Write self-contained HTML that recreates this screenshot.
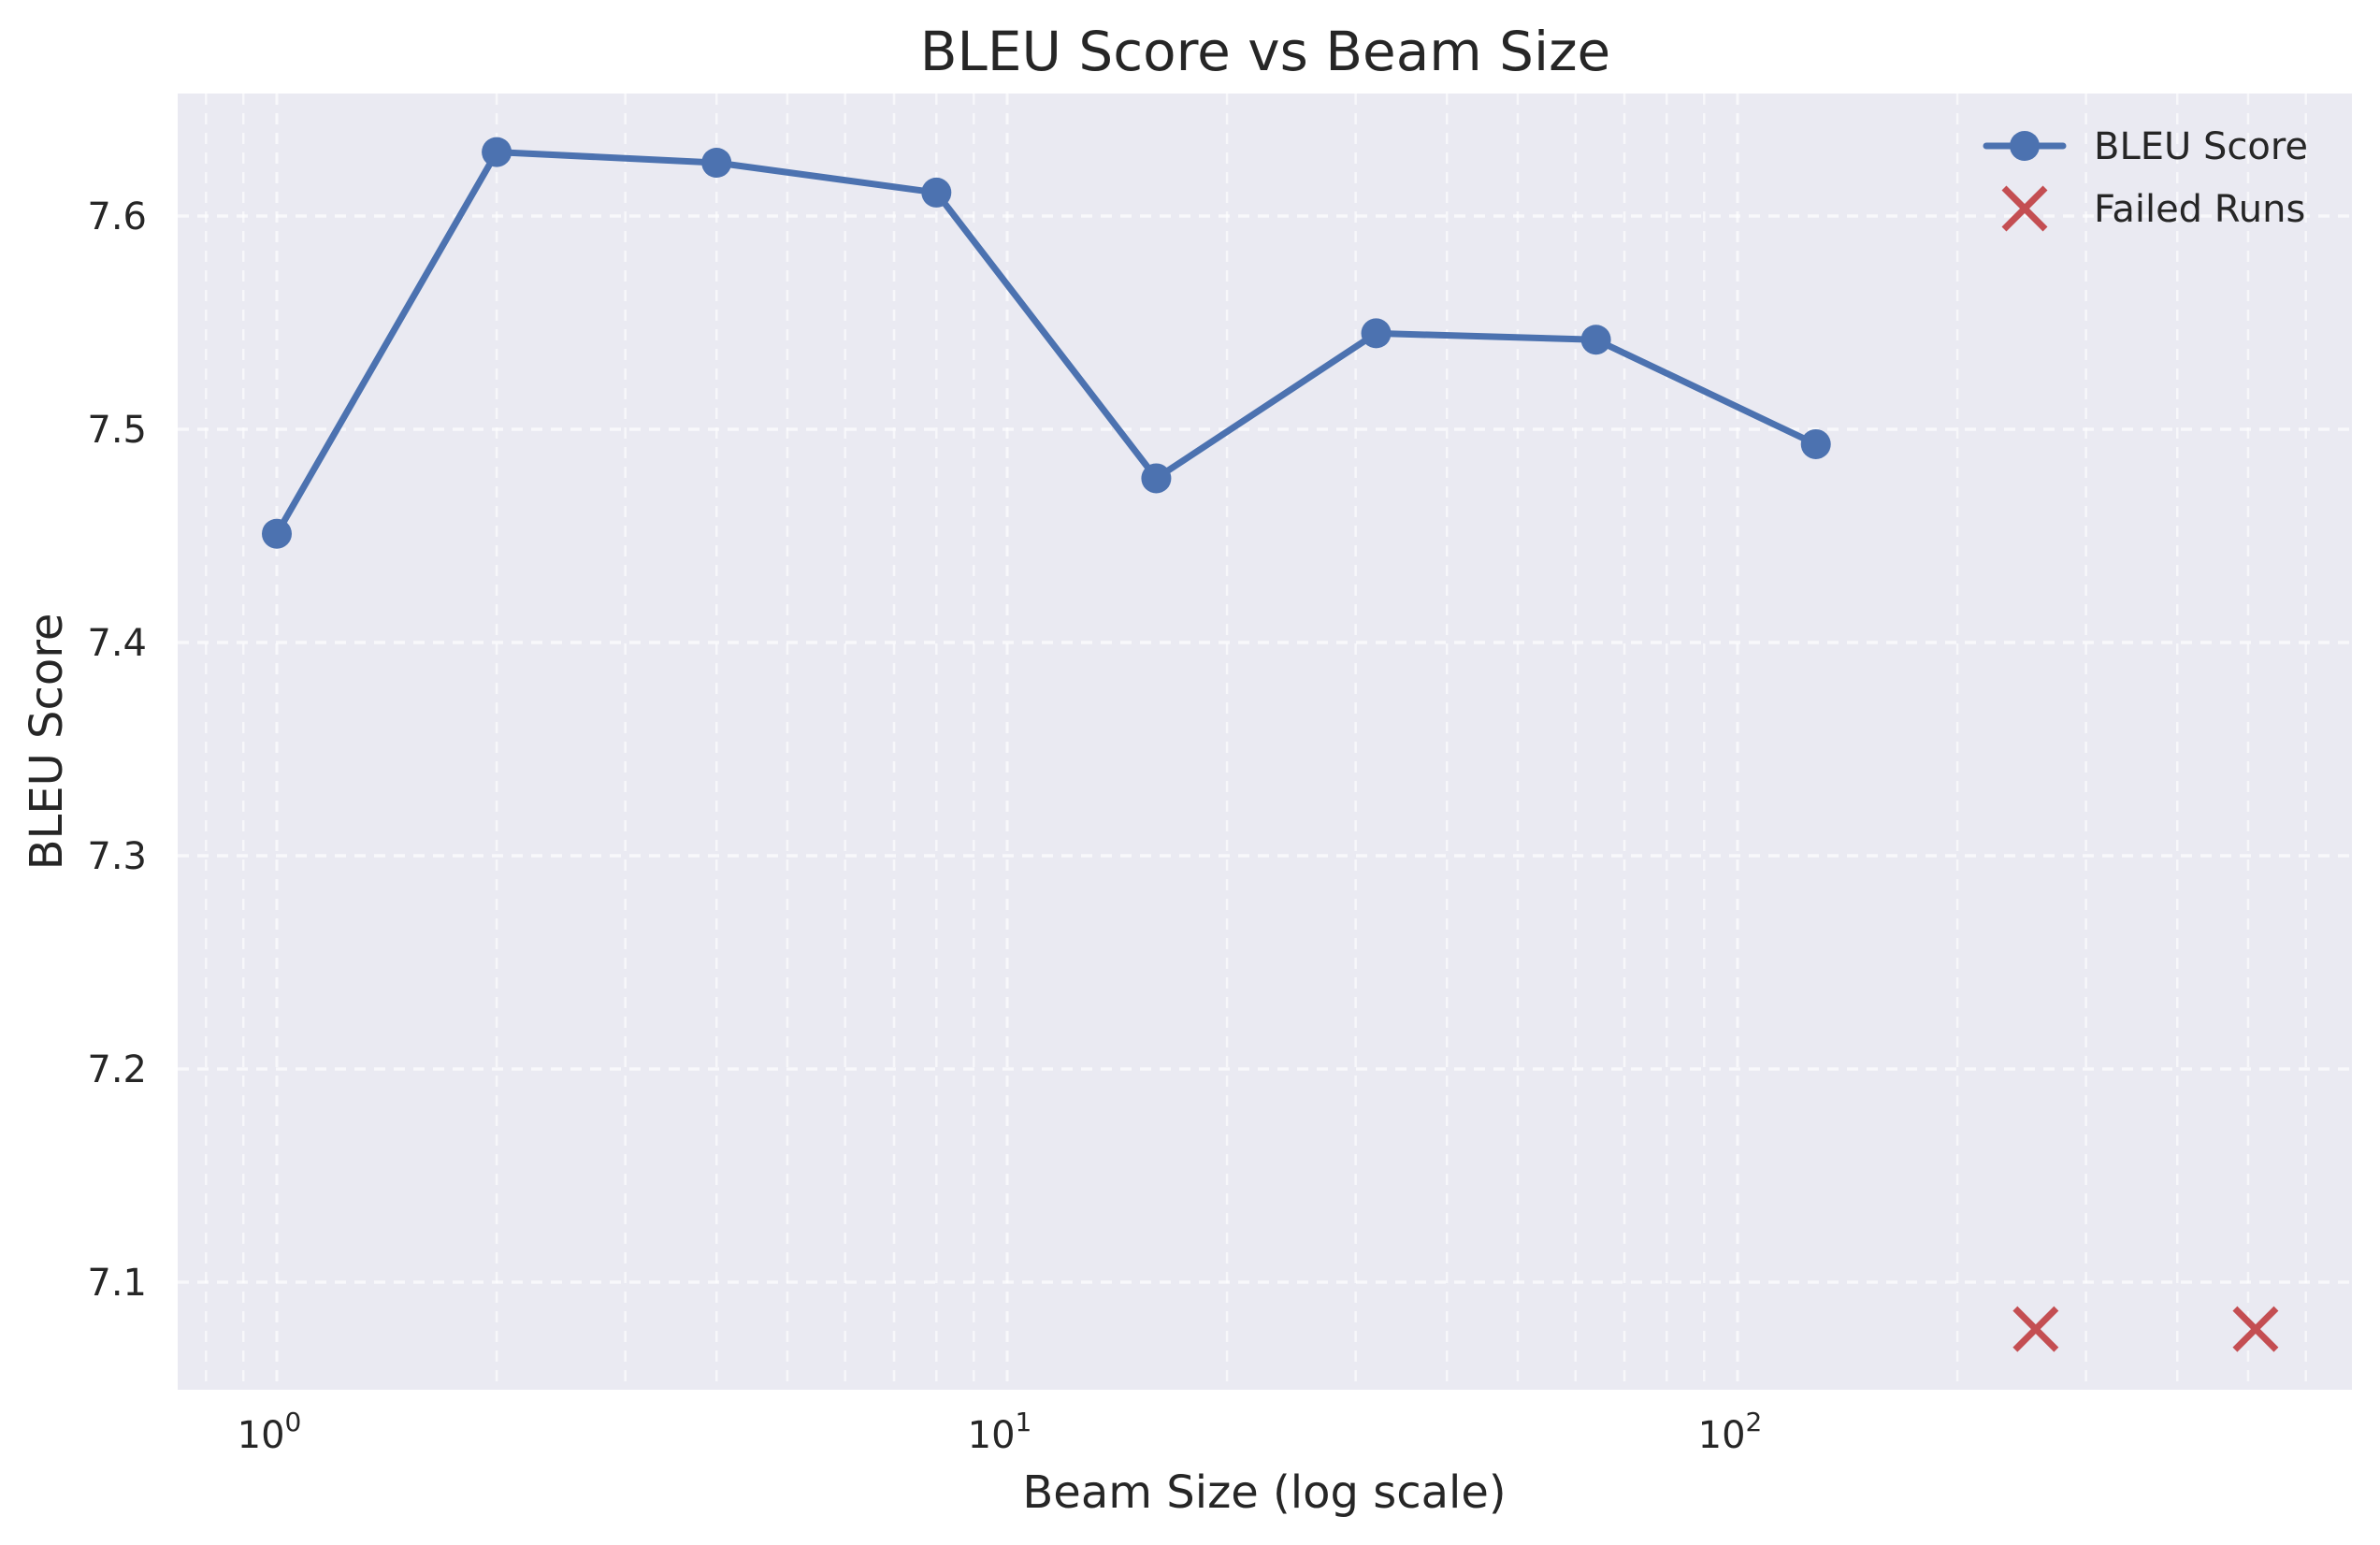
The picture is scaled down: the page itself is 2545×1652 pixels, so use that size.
<!DOCTYPE html>
<html><head><meta charset="utf-8"><style>
html,body{margin:0;padding:0;background:#fff;}
svg{display:block;font-family:"DejaVu Sans","Liberation Sans",sans-serif;}
</style></head><body>
<svg id="chart" width="2545" height="1652" viewBox="0 0 2545 1652" xmlns="http://www.w3.org/2000/svg">
<rect x="0" y="0" width="2545" height="1652" fill="#ffffff"/>
<text x="1353" y="75" text-anchor="middle" font-size="58" fill="#262626">BLEU Score vs Beam Size</text>
<rect x="190" y="100" width="2325" height="1386" fill="#eaeaf2"/>
<g id="grid"></g>
<g id="series"></g>
<g id="ticks"></g>
<text x="1352" y="1612" text-anchor="middle" font-size="48" fill="#262626">Beam Size (log scale)</text>
<text transform="translate(66,793) rotate(-90)" text-anchor="middle" font-size="48" fill="#262626">BLEU Score</text>
<g>
  <line x1="2124" y1="156" x2="2206" y2="156" stroke="#4c72b0" stroke-width="7" stroke-linecap="round"/>
  <circle cx="2165" cy="156" r="16" fill="#4c72b0"/>
  <text x="2239" y="170" font-size="40" fill="#262626">BLEU Score</text>
  <g stroke="#c44e52" stroke-width="7">
    <line x1="2143" y1="201" x2="2187" y2="245"/><line x1="2187" y1="201" x2="2143" y2="245"/>
  </g>
  <text x="2239" y="237" font-size="40" fill="#262626">Failed Runs</text>
</g>
</svg>
<script>
const beamSizes = [1, 2, 4, 8, 16, 32, 64, 128];
const bleuScores = [7.451, 7.630, 7.625, 7.611, 7.477, 7.545, 7.542, 7.493];
const failedBeams = [256, 512];
const failedScores = [7.078, 7.078];
const yTicks = [7.1, 7.2, 7.3, 7.4, 7.5, 7.6];
const xMajorExps = [0, 1, 2];

const NS = "http://www.w3.org/2000/svg";
const L = 190, R = 2515, T = 100, B = 1486;
const X0 = 296, DEC = 781;
const Y0 = 7.1, Y0PX = 1371, PPU = 2280;
function xs(v){ return X0 + Math.log10(v) * DEC; }
function ys(v){ return Y0PX - (v - Y0) * PPU; }
function mk(tag, attrs, parent){
  const e = document.createElementNS(NS, tag);
  for (const k in attrs) e.setAttribute(k, attrs[k]);
  parent.appendChild(e);
  return e;
}
const grid = document.getElementById('grid');
const ticks = document.getElementById('ticks');
const series = document.getElementById('series');

for (let e = -1; e <= 2; e++) {
  for (let m = 2; m <= 9; m++) {
    const v = m * Math.pow(10, e);
    const x = xs(v);
    if (x < L || x > R) continue;
    const g = mk('line', {x1:x, y1:T, x2:x, y2:B, stroke:'#ffffff', 'stroke-width':2.5, 'stroke-dasharray':'12 9', 'stroke-opacity':0.6}, grid);
    
    
  }
}
xMajorExps.forEach(function(e){
  const x = xs(Math.pow(10, e));
  const g = mk('line', {x1:x, y1:T, x2:x, y2:B, stroke:'#ffffff', 'stroke-width':3, 'stroke-dasharray':'12 9', 'stroke-opacity':0.65}, grid);
  
  
  const t = mk('text', {x:x - 8, y:1548, 'text-anchor':'middle', 'font-size':40, fill:'#262626'}, ticks);
  
  
  t.textContent = '10';
  const s = mk('tspan', {dy:-18, 'font-size':28}, t);
  s.textContent = String(e);
});
yTicks.forEach(function(v){
  const y = ys(v);
  const g = mk('line', {x1:L, y1:y, x2:R, y2:y, stroke:'#ffffff', 'stroke-width':3.5, 'stroke-dasharray':'12 9', 'stroke-opacity':0.65}, grid);
  
  
  const t = mk('text', {x:157, y:y + 14, 'text-anchor':'end', 'font-size':40, fill:'#262626'}, ticks);
  
  
  t.textContent = v.toFixed(1);
});
const pts = beamSizes.map(function(b, i){ return xs(b) + ',' + ys(bleuScores[i]); }).join(' ');
const pl = mk('polyline', {points:pts, fill:'none', stroke:'#4c72b0', 'stroke-width':7, 'stroke-linejoin':'round'}, series);


beamSizes.forEach(function(b, i){
  const c = mk('circle', {cx:xs(b), cy:ys(bleuScores[i]), r:16, fill:'#4c72b0'}, series);
  
  
});
failedBeams.forEach(function(b, i){
  const cx = xs(b), cy = ys(failedScores[i]), h = 22;
  const g = mk('g', {stroke:'#c44e52', 'stroke-width':7}, series);
  
  
  mk('line', {x1:cx-h, y1:cy-h, x2:cx+h, y2:cy+h}, g);
  mk('line', {x1:cx+h, y1:cy-h, x2:cx-h, y2:cy+h}, g);
});
</script>
</body></html>
